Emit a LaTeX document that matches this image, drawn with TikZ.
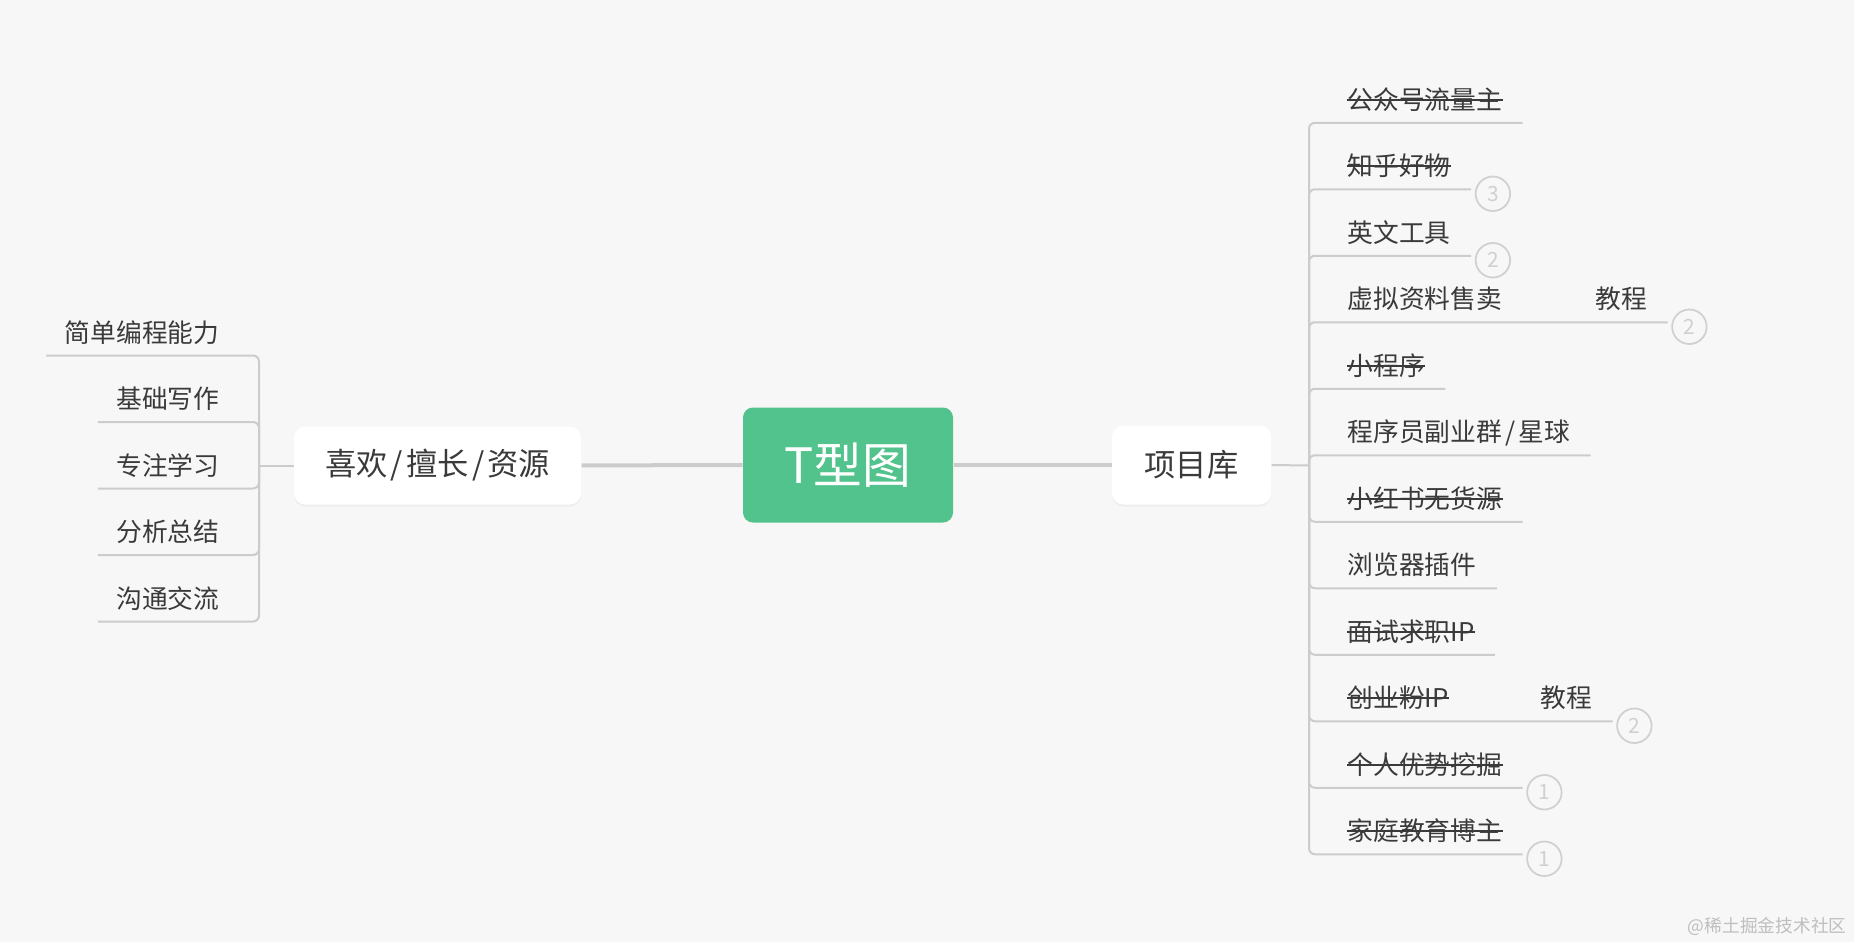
\documentclass[tikz,border=0pt]{standalone}
\usepackage{fontspec}
\setmainfont{Noto Sans CJK SC}
\usetikzlibrary{positioning,shadows}
\definecolor{fondo}{RGB}{247,247,247}
\definecolor{verde}{RGB}{82,195,140}
\definecolor{linea}{RGB}{204,204,204}
\definecolor{texto}{RGB}{58,58,58}
\definecolor{marca}{RGB}{208,208,208}
\definecolor{sello}{RGB}{190,190,190}
\newcommand{\barra}{\kern1.3pt/\kern1.3pt}
\tikzset{
  tema/.style={rounded corners=4.5pt, fill=white, text=texto, font=\fontsize{12.5}{14}\selectfont,
    drop shadow={shadow xshift=0pt, shadow yshift=-0.8pt, opacity=0.07}},
  hoja/.style={inner sep=0pt, text=texto, font=\fontsize{10.3}{12}\selectfont, text height=0.8em, text depth=0.04em},
  rama/.style={draw=linea, line width=0.8pt, rounded corners=2.4pt},
  tronco/.style={draw=linea, line width=1.6pt},
  tachado/.style={draw=texto, line width=0.8pt},
  num/.style={circle, draw=marca, line width=0.7pt, text=marca, minimum size=13.8pt, inner sep=0pt, font=\fontsize{8.4}{9}\selectfont}
}
\begin{document}
\begin{tikzpicture}[x=0.4pt,y=-0.4pt]
\fill[fondo] (0,0) rectangle (1854,942); % fondo
\node[fill=verde, rounded corners=4pt, minimum width=84pt, minimum height=46pt, text=white,
  font=\fontsize{19.5}{22}\selectfont] (tgraf) at (848,465) {T型图};
\node[tema, minimum width=114.8pt, minimum height=31.2pt] (gusto) at (437.5,465.5) {喜欢\barra 擅长\barra 资源};
\node[tema, minimum width=63.6pt, minimum height=31.6pt] (proy) at (1191.5,465) {项目库};
\draw[tronco] (gusto) -- (tgraf);
\draw[tronco] (tgraf) -- (proy);
\coordinate (jl) at (259,465.5);
\coordinate (jr) at (1309,465.5);
\draw[rama] (gusto.west) -- (jl);
\draw[rama] (proy.east) -- (jr);
% lado izquierdo
\foreach \t [count=\i from 0] in {简单编程能力,基础写作,专注学习,分析总结,沟通交流}{
  \node[hoja, anchor=east] (l\i) at (220,{465.5+66.5*(\i-2)}) {\t};
  \draw[rama] (jl) |- ([shift={(-7.2pt,-9.2pt)}]l\i.west);
}
% lado derecho
\foreach \t/\s [count=\i from 0] in {公众号流量主/1,知乎好物/1,英文工具/0,虚拟资料售卖/0,小程序/1,
    {程序员副业群\barra 星球}/0,小红书无货源/1,浏览器插件/0,面试求职IP/1,创业粉IP/1,个人优势挖掘/1,家庭教育博主/1}{
  \node[hoja, anchor=west] (r\i) at (1347,{465.5+66.5*(\i-5.5)}) {\t};
  \ifnum\s=1 \draw[tachado] (r\i.west) -- (r\i.east); \fi
}
\node[hoja, anchor=west] (e3) at (1595,{465.5+66.5*(3-5.5)}) {教程};
\node[hoja, anchor=west] (e9) at (1540,{465.5+66.5*(9-5.5)}) {教程};
\foreach \i/\f in {0/r0,1/r1,2/r2,3/e3,4/r4,5/r5,6/r6,7/r7,8/r8,9/e9,10/r10,11/r11}
  \draw[rama] (jr) |- ([shift={(8pt,-9.2pt)}]\f.east) coordinate (u\i);
\foreach \i/\n in {1/3,2/2,3/2,9/2,10/1,11/1}
  \node[num, right=1.5pt of u\i, yshift=-1.8pt] (b\i) {\n};
\node[text=sello, inner sep=0pt, anchor=east, font=\fontsize{7.1}{8}\selectfont] (firma) at (1847,926.7) {@稀土掘金技术社区};
\end{tikzpicture}
\end{document}
